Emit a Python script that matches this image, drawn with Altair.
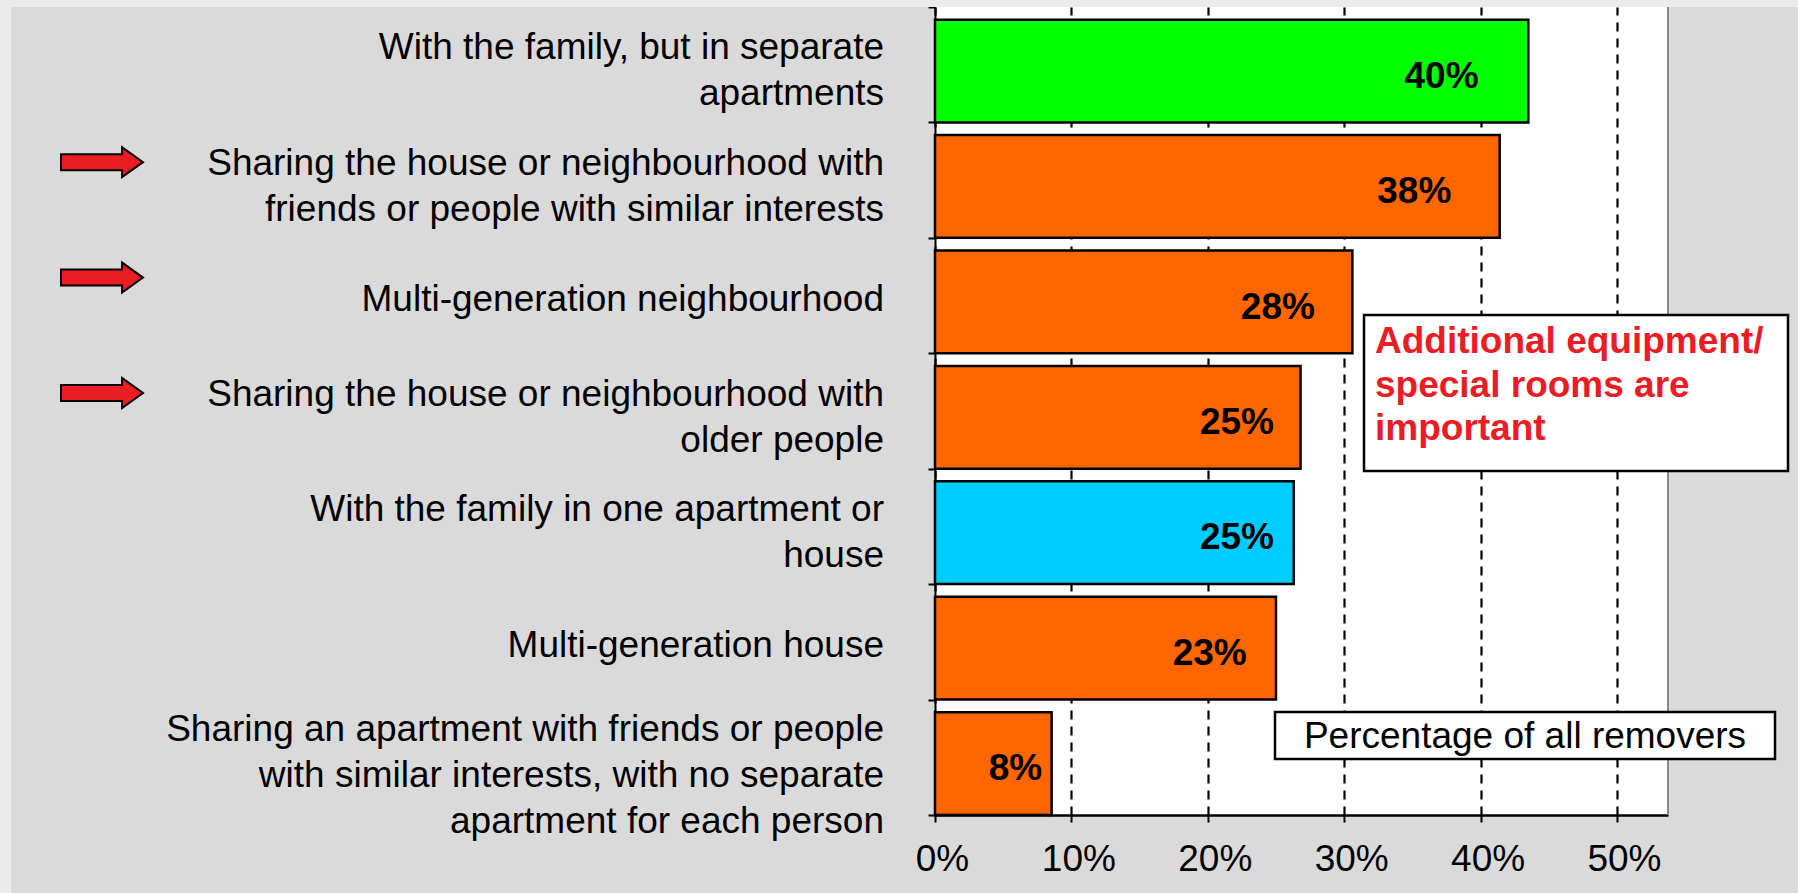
import altair as alt
import pandas as pd

# ---------------- data ----------------
categories = [
    "With the family, but in separate\napartments",
    "Sharing the house or neighbourhood with\nfriends or people with similar interests",
    "Multi-generation neighbourhood",
    "Sharing the house or neighbourhood with\nolder people",
    "With the family in one apartment or\nhouse",
    "Multi-generation house",
    "Sharing an apartment with friends or people\nwith similar interests, with no separate\napartment for each person",
]
bar_values = [0.435, 0.414, 0.306, 0.268, 0.263, 0.250, 0.0855]
value_labels = [40, 38, 28, 25, 25, 23, 8]
groups = ["Family, separate", "Other", "Other", "Other", "Family, together", "Other", "Other"]
arrow_rows = [categories[1], categories[2], categories[3]]
tick_values = [0, 0.1, 0.2, 0.3, 0.4, 0.5]
box_lines = ["Additional equipment/", "special rooms are", "important"]
legend_note = "Percentage of all removers"

group_domain = ["Family, separate", "Family, together", "Other"]
group_colors = ["#00FF00", "#00CCFF", "#FF6600"]

df = pd.DataFrame({
    "category": categories,
    "value": bar_values,
    "label_frac": [v / 100 for v in value_labels],
    "label": [f"{v}%" for v in value_labels],
    "group": groups,
    "n_lines": [c.count("\n") + 1 for c in categories],
})
arrows_df = pd.DataFrame({"category": arrow_rows})
one = pd.DataFrame({"k": [0]})

# ---------------- layout ----------------
W, H = 733, 808
PAD = {"left": 935, "top": 7, "right": 1798 - 935 - W, "bottom": 893 - 7 - H}
FONT = "Liberation Sans"
RED = "#EA1C24"

y_enc = alt.Y(
    "category:N",
    sort=categories,
    scale=alt.Scale(paddingInner=0, paddingOuter=0),
    axis=alt.Axis(
        title=None,
        labels=False,
        tickBand="extent",
        tickSize=7,
        tickWidth=2,
        tickColor="black",
        domainColor="black",
        domainWidth=2,
        grid=False,
    ),
)

x_scale = alt.Scale(domain=[0, 0.5374], nice=False, zero=True)
x_axis = alt.Axis(
    title=None,
    values=tick_values,
    format=".0%",
    grid=True,
    gridDash=[9, 7],
    gridColor="black",
    gridWidth=2.2,
    gridOpacity=1,
    tickSize=7,
    tickWidth=2,
    tickColor="black",
    domainColor="black",
    domainWidth=2.5,
    labelPadding=19,
    labelOffset=7,
    labelFontSize=37,
    labelFlush=False,
)

base = alt.Chart(df)

bars = base.mark_bar(
    height=alt.RelativeBandSize(0.89), yOffset=6.3, stroke="black", strokeWidth=2.5
).encode(
    y=y_enc,
    x=alt.X("value:Q", scale=x_scale, axis=x_axis),
    color=alt.Color("group:N", scale=alt.Scale(domain=group_domain, range=group_colors), legend=None),
)

value_text = base.mark_text(
    align="right", baseline="middle", dx=-2, dy=12,
    font=FONT, fontSize=37, fontWeight="bold", color="black",
).encode(
    y=y_enc,
    x=alt.X("label_frac:Q", scale=x_scale, axis=x_axis),
    text="label:N",
)

# category labels, drawn as text so that multi-line blocks sit like the original
label_dy = {1: 4, 2: -16.5, 3: -27}
cat_layers = []
for n, dy in label_dy.items():
    cat_layers.append(
        base.transform_filter(alt.datum.n_lines == n)
        .transform_calculate(lines="split(datum.category, '\\n')")
        .mark_text(
            align="right", baseline="middle", dy=dy, font=FONT, fontSize=37,
            color="black", lineHeight=46,
        )
        .encode(y=y_enc, x=alt.value(-51), text="lines:N")
    )

arrow_path = "M -1 -0.195 L 0.49 -0.195 L 0.49 -0.366 L 1 0 L 0.49 0.366 L 0.49 0.195 L -1 0.195 Z"
arrows = alt.Chart(arrows_df).mark_point(
    shape=arrow_path, filled=True, fill=RED, stroke="black", strokeWidth=2,
    size=6724, opacity=1, yOffset=-18,
).encode(
    y=y_enc,
    x=alt.value(-833),
)

right_border = alt.Chart(one).mark_rule(color="#888888", strokeWidth=2).encode(
    x=alt.value(W), y=alt.value(0), y2=alt.value(H)
)

strip_top = alt.Chart(one).mark_rect(color="#EBEBEB").encode(
    x=alt.value(-935), x2=alt.value(1798 - 935), y=alt.value(-7), y2=alt.value(0)
)
strip_left = alt.Chart(one).mark_rect(color="#EBEBEB").encode(
    x=alt.value(-935), x2=alt.value(-924), y=alt.value(-7), y2=alt.value(893 - 7)
)

box1 = alt.Chart(one).mark_rect(fill="white", stroke="black", strokeWidth=2.5).encode(
    x=alt.value(1364 - 935), x2=alt.value(1788 - 935), y=alt.value(315 - 7), y2=alt.value(471 - 7)
)
box1_text = alt.Chart(one).mark_text(
    text=box_lines, align="left", baseline="alphabetic", font=FONT, fontSize=37,
    fontWeight="bold", color=RED, lineHeight=43.5,
).encode(x=alt.value(1375 - 935), y=alt.value(353 - 7))

box2 = alt.Chart(one).mark_rect(fill="white", stroke="black", strokeWidth=2.5).encode(
    x=alt.value(1275 - 935), x2=alt.value(1775 - 935), y=alt.value(712 - 7), y2=alt.value(759 - 7)
)
box2_text = alt.Chart(one).mark_text(
    text=legend_note, align="center", baseline="alphabetic", font=FONT, fontSize=37, color="black",
).encode(x=alt.value((1275 + 1775) / 2 - 935), y=alt.value(748 - 7))

chart = alt.layer(
    strip_top, strip_left, bars, value_text, *cat_layers, arrows, right_border,
    box1, box1_text, box2, box2_text,
).properties(
    width=W, height=H,
    autosize=alt.AutoSizeParams(type="none"),
    padding=PAD,
    background="#DADADA",
).configure_view(
    fill="white", stroke=None,
).configure_axis(
    labelFont=FONT, labelColor="black",
).configure_text(font=FONT)

chart.save("out.html", embed_options={"renderer": "svg", "actions": False})
